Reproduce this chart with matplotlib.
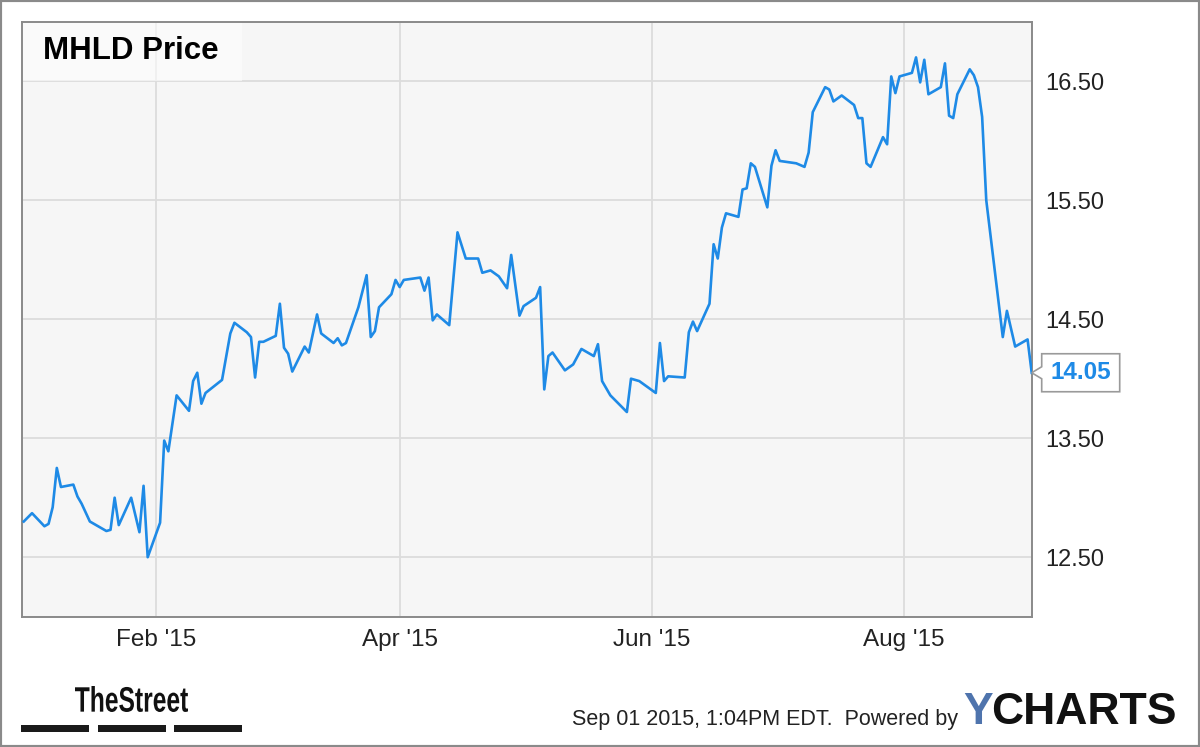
import datetime as dt
import matplotlib
matplotlib.use('Agg')
import matplotlib.pyplot as plt
import matplotlib.dates as mdates
from matplotlib.patches import Rectangle, Polygon, PathPatch
from matplotlib.textpath import TextPath
from matplotlib.font_manager import FontProperties
from matplotlib.transforms import Affine2D

# MHLD daily price
dates = [
    '2014-12-31', '2015-01-02', '2015-01-05', '2015-01-06', '2015-01-07', '2015-01-08',
    '2015-01-09', '2015-01-12', '2015-01-13', '2015-01-14', '2015-01-16', '2015-01-20',
    '2015-01-21', '2015-01-22', '2015-01-23', '2015-01-26', '2015-01-28', '2015-01-29',
    '2015-01-30', '2015-02-02', '2015-02-03', '2015-02-04', '2015-02-06', '2015-02-09',
    '2015-02-10', '2015-02-11', '2015-02-12', '2015-02-13', '2015-02-17', '2015-02-19',
    '2015-02-20', '2015-02-23', '2015-02-24', '2015-02-25', '2015-02-26', '2015-02-27',
    '2015-03-02', '2015-03-03', '2015-03-04', '2015-03-05', '2015-03-06', '2015-03-09',
    '2015-03-10', '2015-03-12', '2015-03-13', '2015-03-16', '2015-03-17', '2015-03-18',
    '2015-03-19', '2015-03-22', '2015-03-24', '2015-03-25', '2015-03-26', '2015-03-27',
    '2015-03-30', '2015-03-31', '2015-04-01', '2015-04-02', '2015-04-06', '2015-04-07',
    '2015-04-08', '2015-04-09', '2015-04-10', '2015-04-13', '2015-04-15', '2015-04-17',
    '2015-04-20', '2015-04-21', '2015-04-23', '2015-04-25', '2015-04-27', '2015-04-28',
    '2015-04-30', '2015-05-01', '2015-05-04', '2015-05-05', '2015-05-06', '2015-05-07',
    '2015-05-08', '2015-05-11', '2015-05-13', '2015-05-15', '2015-05-18', '2015-05-19',
    '2015-05-20', '2015-05-22', '2015-05-26', '2015-05-27', '2015-05-29', '2015-06-02',
    '2015-06-03', '2015-06-04', '2015-06-05', '2015-06-09', '2015-06-10', '2015-06-11',
    '2015-06-12', '2015-06-15', '2015-06-16', '2015-06-17', '2015-06-18', '2015-06-19',
    '2015-06-22', '2015-06-23', '2015-06-24', '2015-06-25', '2015-06-26', '2015-06-29',
    '2015-06-30', '2015-07-01', '2015-07-02', '2015-07-06', '2015-07-08', '2015-07-09',
    '2015-07-10', '2015-07-13', '2015-07-14', '2015-07-15', '2015-07-17', '2015-07-20',
    '2015-07-21', '2015-07-22', '2015-07-23', '2015-07-24', '2015-07-27', '2015-07-28',
    '2015-07-29', '2015-07-30', '2015-07-31', '2015-08-03', '2015-08-04', '2015-08-05',
    '2015-08-06', '2015-08-07', '2015-08-10', '2015-08-11', '2015-08-12', '2015-08-13',
    '2015-08-14', '2015-08-17', '2015-08-18', '2015-08-19', '2015-08-20', '2015-08-21',
    '2015-08-25', '2015-08-26', '2015-08-28', '2015-08-31', '2015-09-01',
]
prices = [
    12.80, 12.87, 12.76, 12.78, 12.92, 13.25,
    13.09, 13.11, 13.01, 12.95, 12.80, 12.72,
    12.73, 13.00, 12.77, 13.00, 12.71, 13.10,
    12.50, 12.79, 13.48, 13.39, 13.86, 13.73,
    13.98, 14.05, 13.79, 13.88, 13.99, 14.38,
    14.47, 14.39, 14.35, 14.01, 14.31, 14.31,
    14.36, 14.63, 14.26, 14.21, 14.06, 14.27,
    14.22, 14.54, 14.38, 14.30, 14.34, 14.28,
    14.30, 14.60, 14.87, 14.35, 14.40, 14.60,
    14.71, 14.83, 14.77, 14.83, 14.85, 14.74,
    14.85, 14.49, 14.54, 14.45, 15.23, 15.01,
    15.01, 14.89, 14.91, 14.86, 14.76, 15.04,
    14.53, 14.61, 14.68, 14.77, 13.91, 14.19,
    14.22, 14.07, 14.12, 14.25, 14.19, 14.29,
    13.98, 13.86, 13.72, 14.00, 13.98, 13.88,
    14.30, 13.98, 14.02, 14.01, 14.39, 14.48,
    14.40, 14.63, 15.13, 15.01, 15.27, 15.39,
    15.36, 15.59, 15.60, 15.81, 15.78, 15.44,
    15.79, 15.92, 15.83, 15.81, 15.78, 15.90,
    16.24, 16.45, 16.43, 16.33, 16.38, 16.30,
    16.19, 16.19, 15.81, 15.78, 16.03, 15.97,
    16.54, 16.40, 16.54, 16.57, 16.70, 16.49,
    16.68, 16.39, 16.45, 16.65, 16.21, 16.19,
    16.39, 16.60, 16.55, 16.45, 16.20, 15.50,
    14.35, 14.57, 14.27, 14.33, 14.05,
]
y_ticks = [12.5, 13.5, 14.5, 15.5, 16.5]
x_ticks = ['2015-02-01', '2015-04-01', '2015-06-01', '2015-08-01']

LINE = '#1e8ae6'
dts = [dt.datetime.strptime(d, '%Y-%m-%d') for d in dates]

plt.rcParams['font.family'] = ['Liberation Sans', 'DejaVu Sans']

fig = plt.figure(figsize=(12, 7.47), dpi=100)
fig.patch.set_facecolor('white')
ax = fig.add_axes([21.7 / 1200, 1 - 616.7 / 747, 1010 / 1200, 595 / 747])
ax.set_facecolor('#f6f6f6')

ax.plot(dts, prices, color=LINE, lw=1.9, zorder=3, solid_joinstyle='round')

ax.set_xlim(dt.datetime(2014, 12, 30, 12), dt.datetime(2015, 9, 1))
ax.set_ylim(12, 17)
ax.set_xticks([dt.datetime.strptime(d, '%Y-%m-%d') for d in x_ticks])
ax.xaxis.set_major_formatter(mdates.DateFormatter("%b '%y"))
ax.set_yticks(y_ticks)
ax.set_yticklabels(['%.2f' % v for v in y_ticks])
ax.yaxis.tick_right()
ax.tick_params(axis='y', length=0, pad=10, labelsize=17, labelcolor='#222222')
ax.tick_params(axis='x', length=0, pad=9, labelsize=17.5, labelcolor='#222222')
ax.grid(True, color='#dcdcdc', lw=1.3, zorder=1)
for s in ax.spines.values():
    s.set_color('#8a8a8a')
    s.set_linewidth(1.4)

# title block
ax.add_patch(Rectangle((0, 0.9), 0.218, 0.1, transform=ax.transAxes,
                       facecolor='white', alpha=0.55, lw=0, zorder=2))
ax.text(0.0215, 0.95, 'MHLD Price', transform=ax.transAxes, ha='left', va='center',
        fontsize=22.5, fontweight='bold', color='black', zorder=4)

# last price callout
fig.canvas.draw()
xt, yt = ax.transData.transform((mdates.date2num(dts[-1]), prices[-1]))
callout = Polygon([(xt, yt), (xt + 10, yt + 6), (xt + 10, yt + 19), (xt + 88, yt + 19),
                   (xt + 88, yt - 19), (xt + 10, yt - 19), (xt + 10, yt - 6)],
                  closed=True, transform=None, facecolor='white', edgecolor='#9a9a9a',
                  lw=1.2, zorder=5, clip_on=False)
fig.patches.append(callout)
fig.text((xt + 49) / 1200, yt / 747, '%.2f' % prices[-1], ha='center', va='center',
         fontsize=17.5, fontweight='bold', color=LINE, zorder=6)

# footer: TheStreet logo, squeezed horizontally
for x0 in (21, 98, 174):
    fig.patches.append(Rectangle((x0 / 1200, 1 - 732 / 747), 68 / 1200, 7 / 747,
                                 transform=fig.transFigure, facecolor='#1a1a1a', lw=0))
tp = TextPath((0, 0), 'TheStreet', size=34,
              prop=FontProperties(family='Liberation Sans', weight='bold'))
bb = tp.get_extents()
sx = 113 / bb.width
sy = 26 / bb.height
logo = PathPatch(tp, transform=Affine2D().translate(-bb.x0, -bb.y0).scale(sx, sy)
                 .translate(75, 747 - 712), facecolor='#111111', lw=0)
fig.patches.append(logo)

fig.text(958 / 1200, 1 - 719 / 747, 'Sep 01 2015, 1:04PM EDT.  Powered by', ha='right',
         va='center', fontsize=15.5, color='#222222')
t_ch = fig.text(1177 / 1200, 1 - 713 / 747, 'CHARTS', ha='right', va='center',
                fontsize=32, fontweight='bold', color='#111111')
fig.canvas.draw()
x_ch = t_ch.get_window_extent().x0
fig.text((x_ch + 1) / 1200, 1 - 713 / 747, 'Y', ha='right', va='center',
         fontsize=32, fontweight='bold', color='#4f74ad')

# outer frame
fig.patches.append(Rectangle((0, 0), 1, 1, transform=fig.transFigure, fill=False,
                             edgecolor='#8a8a8a', lw=3))

fig.savefig('out.png', dpi=100)
